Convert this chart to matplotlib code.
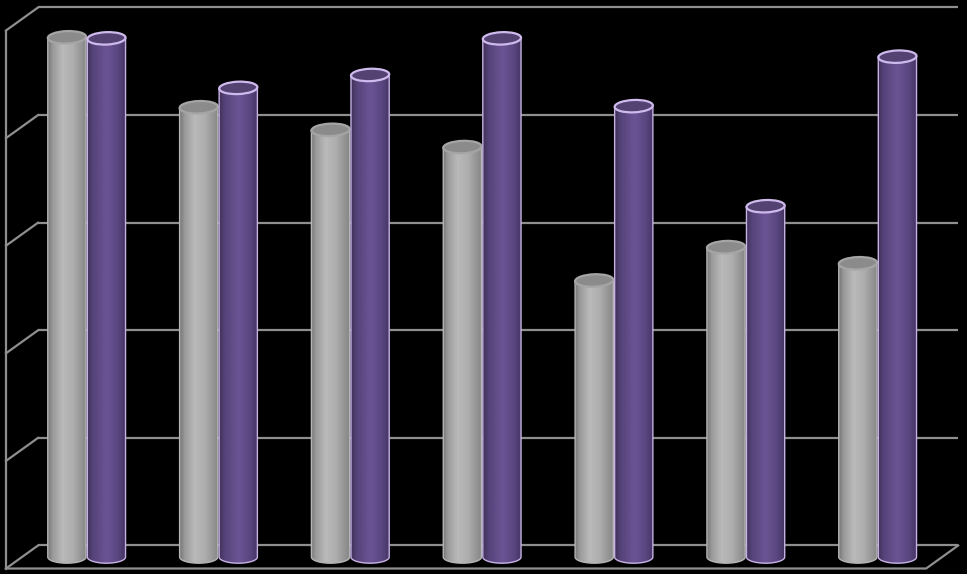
import numpy as np
import matplotlib
matplotlib.use("Agg")
import matplotlib.pyplot as plt
from matplotlib.patches import Ellipse, PathPatch
from matplotlib.path import Path
from matplotlib.colors import LinearSegmentedColormap

# ---- data ----
categories = ["1", "2", "3", "4", "5", "6", "7"]
series_gray = [4.83, 4.18, 3.97, 3.81, 2.57, 2.88, 2.73]
series_purple = [4.82, 4.36, 4.48, 4.82, 4.19, 3.26, 4.65]
grid_levels = [0, 1, 2, 3, 4, 5]

fig = plt.figure(figsize=(9.67, 5.74), dpi=100)
fig.patch.set_facecolor("black")
ax = fig.add_axes([0, 0, 1, 1])
ax.set_facecolor("black")
ax.axis("off")

XL = (-86 / 131.83, (967 - 86) / 131.83)
YL = ((557 - 574) / 107.6, 557 / 107.6)

# perspective geometry (data units)
back_x0, back_x1 = -0.364, 6.616
ddx, ddy = 0.243, 0.214
half = ddy / 2
gcol = "#8f8f8f"
glw = 1.6

for k in grid_levels:
    yb = k + half
    yf = k - half
    ax.plot([back_x0, back_x1], [yb, yb], color=gcol, lw=glw, zorder=1,
            solid_capstyle="butt")
    ax.plot([back_x0 - ddx, back_x0], [yf, yb], color=gcol, lw=glw, zorder=1)
# side wall front edge
ax.plot([back_x0 - ddx, back_x0 - ddx], [-half, grid_levels[-1] - half],
        color=gcol, lw=glw, zorder=1)
# floor front + right edge
ax.plot([back_x0 - ddx, back_x1 - ddx, back_x1], [-half, -half, half],
        color=gcol, lw=glw, zorder=6)

cmap_gray = LinearSegmentedColormap.from_list(
    "g", [(0, "#767676"), (0.12, "#9a9a9a"), (0.38, "#bababa"),
          (0.65, "#adadad"), (1, "#848484")])
cmap_purple = LinearSegmentedColormap.from_list(
    "p", [(0, "#3f3157"), (0.15, "#56437a"), (0.5, "#6c5494"),
          (0.8, "#5a4680"), (1, "#423360")])

W = 0.29
EH = 0.115
grad = np.linspace(0, 1, 256).reshape(1, -1)


def cylinder(xc, val, cmap, rim, topfill, toprim, z):
    x0, x1 = xc - W / 2, xc + W / 2
    t = np.linspace(np.pi, 2 * np.pi, 60)
    bx = xc + W / 2 * np.cos(t)
    by = EH / 2 * np.sin(t)
    verts = list(zip(bx, by)) + [(x1, val), (x0, val), (bx[0], by[0])]
    codes = [Path.MOVETO] + [Path.LINETO] * (len(verts) - 2) + [Path.CLOSEPOLY]
    body = PathPatch(Path(verts, codes), facecolor="none", edgecolor=rim,
                     lw=1.0, zorder=z + 0.2, transform=ax.transData)
    ax.add_patch(body)
    im = ax.imshow(grad, cmap=cmap, extent=[x0, x1, -EH, val], aspect="auto",
                   origin="lower", zorder=z, interpolation="bilinear")
    im.set_clip_path(body)
    top = Ellipse((xc, val), W, EH, angle=3, facecolor=topfill,
                  edgecolor=toprim, lw=1.6, zorder=z + 0.3)
    ax.add_patch(top)


for i in range(len(categories)):
    cylinder(i - 0.145, series_gray[i], cmap_gray, "#b5b5b5", "#8b8b8b",
             "#a5a5a5", 3 + i * 0.01)
    cylinder(i + 0.155, series_purple[i], cmap_purple, "#c7b2e6", "#544272",
             "#cfbaee", 4 + i * 0.01)

ax.set_xlim(*XL)
ax.set_ylim(*YL)
fig.savefig("out.png", dpi=100, facecolor="black")
